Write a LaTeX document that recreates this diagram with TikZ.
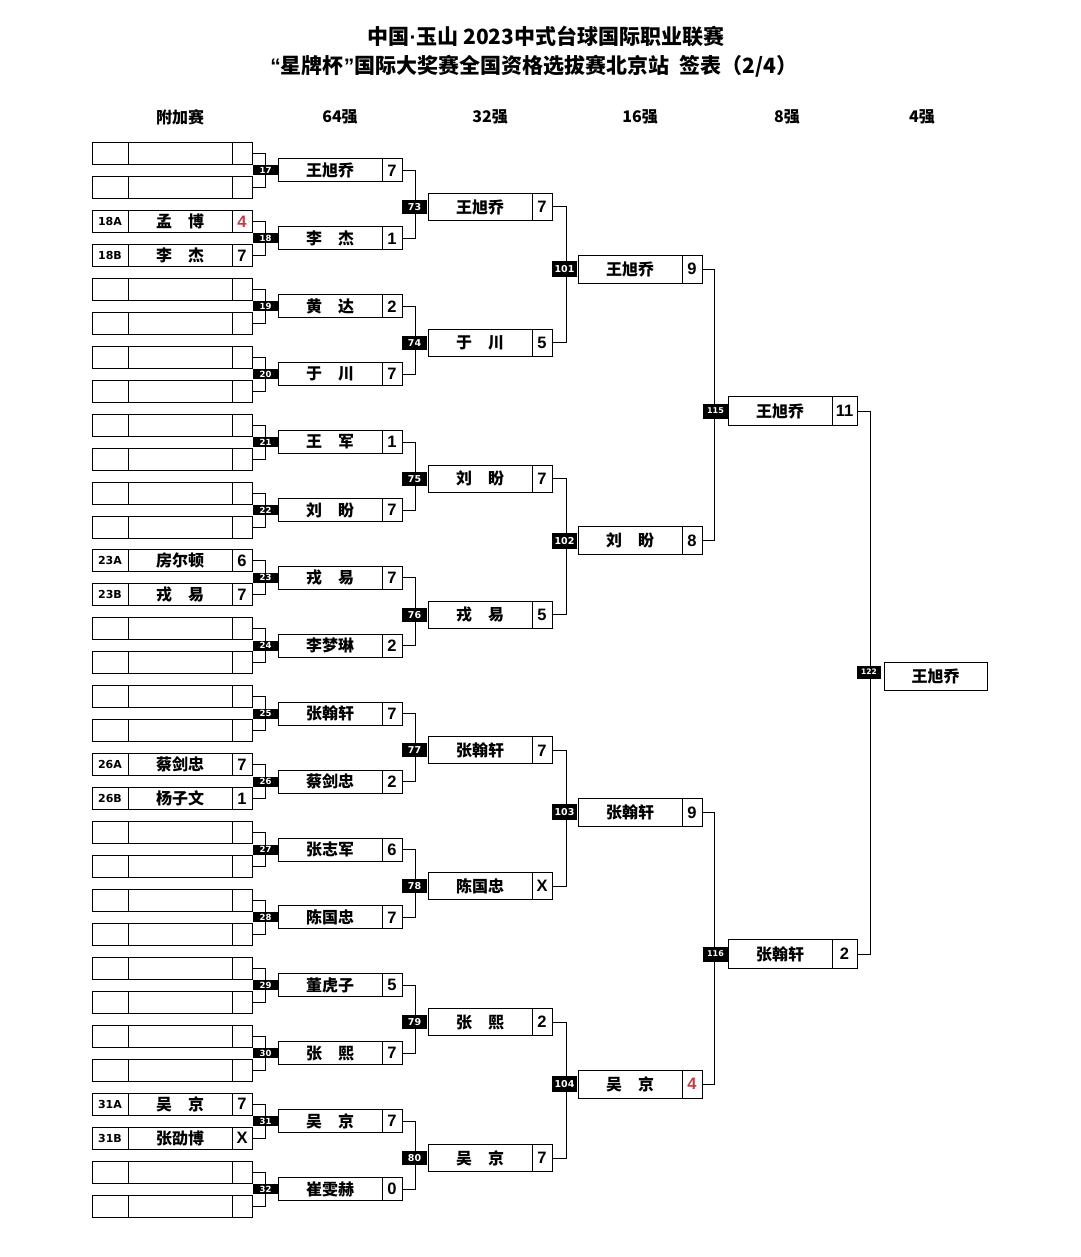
\documentclass[tikz,border=0pt]{standalone}
\usepackage{fontspec}
\setmainfont{Noto Sans CJK SC}
\newfontfamily\numf{Liberation Sans}
\newfontfamily\labf{DejaVu Sans}
\definecolor{sred}{RGB}{196,60,70}
\newcommand\gp{\hspace{1em}}
\tikzset{
  box/.style={draw, line width=1pt, inner sep=0pt, outer sep=0pt},
  pnum/.style={box, minimum width=36pt, minimum height=22pt, font=\labf\bfseries\fontsize{11}{12}\selectfont},
  pname/.style={box, minimum width=104pt, minimum height=22pt, font=\bfseries\fontsize{16}{18}\selectfont},
  pscore/.style={box, minimum width=20pt, minimum height=22pt, font=\numf\bfseries\fontsize{16.5}{18}\selectfont},
  nm/.style={box, minimum width=104pt, font=\bfseries\fontsize{16}{18}\selectfont},
  sc/.style={box, minimum width=20pt, font=\numf\bfseries\fontsize{16.5}{18}\selectfont},
  mlab/.style={fill=black, text=white, inner sep=0pt, minimum width=25pt, font=\labf\bfseries\fontsize{8.5}{9}\selectfont},
  link/.style={line width=1pt},
  hdr/.style={font=\bfseries\fontsize{16}{18}\selectfont},
  ttl/.style={font=\bfseries\fontsize{21}{24}\selectfont}
}
\begin{document}
\begin{tikzpicture}[x=1pt,y=-1pt]
\useasboundingbox[fill=white] (0,0) rectangle (1080,1257);
% titles
\node[ttl] (t1) at (546,36) {中国{\numf·}玉山 2023中式台球国际职业联赛};
\node[ttl] (t2) at (534,66) {{\numf“}星牌杯{\numf”}国际大奖赛全国资格选拔赛北京站\hspace{0.5em}签表（2/4）};
% headers
\node[hdr] (h0) at (180,117) {附加赛};
\node[hdr] (h1) at (340,117) {64强};
\node[hdr] (h2) at (490,117) {32强};
\node[hdr] (h3) at (640,117) {16强};
\node[hdr] (h4) at (787,117) {8强};
\node[hdr] (h5) at (922,117) {4强};
% preliminary rows
\foreach \m/\ca/\na/\sa/\cb/\nb/\sb in {
  17/{}/{}/{}/{}/{}/{},
  18/18A/{孟\gp 博}/{\color{sred}4}/18B/{李\gp 杰}/7,
  19/{}/{}/{}/{}/{}/{},
  20/{}/{}/{}/{}/{}/{},
  21/{}/{}/{}/{}/{}/{},
  22/{}/{}/{}/{}/{}/{},
  23/23A/房尔顿/6/23B/{戎\gp 易}/7,
  24/{}/{}/{}/{}/{}/{},
  25/{}/{}/{}/{}/{}/{},
  26/26A/蔡剑忠/7/26B/杨子文/1,
  27/{}/{}/{}/{}/{}/{},
  28/{}/{}/{}/{}/{}/{},
  29/{}/{}/{}/{}/{}/{},
  30/{}/{}/{}/{}/{}/{},
  31/31A/{吴\gp 京}/7/31B/张劭博/X,
  32/{}/{}/{}/{}/{}/{}}{
  \pgfmathsetmacro\c{170.5+67.9*(\m-17)}
  \node[pnum] (pac\m) at (110,\c-17) {\ca};
  \node[pname] (pan\m) at (180,\c-17) {\na};
  \node[pscore] (pas\m) at (242,\c-17) {\sa};
  \node[pnum] (pbc\m) at (110,\c+17) {\cb};
  \node[pname] (pbn\m) at (180,\c+17) {\nb};
  \node[pscore] (pbs\m) at (242,\c+17) {\sb};
  \draw[link] (pas\m.east) -- ++(13,0) |- (pbs\m.east);
}
% 64 column
\foreach \m/\n/\s in {17/王旭乔/7, 18/{李\gp 杰}/1, 19/{黄\gp 达}/2, 20/{于\gp 川}/7,
  21/{王\gp 军}/1, 22/{刘\gp 盼}/7, 23/{戎\gp 易}/7, 24/李梦琳/2,
  25/张翰轩/7, 26/蔡剑忠/2, 27/张志军/6, 28/陈国忠/7,
  29/董虎子/5, 30/{张\gp 熙}/7, 31/{吴\gp 京}/7, 32/崔雯赫/0}{
  \pgfmathsetmacro\c{170.5+67.9*(\m-17)}
  \node[nm, minimum height=23pt] (an\m) at (330,\c) {\n};
  \node[sc, minimum height=23pt] (as\m) at (392,\c) {\s};
  \node[mlab, minimum height=10pt] (la\m) at (265.5,\c) {\m};
}
% 32 column
\foreach \m/\a/\b/\n/\s in {73/17/18/王旭乔/7, 74/19/20/{于\gp 川}/5, 75/21/22/{刘\gp 盼}/7, 76/23/24/{戎\gp 易}/5,
  77/25/26/张翰轩/7, 78/27/28/陈国忠/X, 79/29/30/{张\gp 熙}/2, 80/31/32/{吴\gp 京}/7}{
  \pgfmathsetmacro\c{207+135.86*(\m-73)}
  \draw[link] (as\a.east) -- ++(13,0) |- (as\b.east);
  \node[nm, minimum height=27pt] (bn\m) at (480,\c) {\n};
  \node[sc, minimum height=27pt] (bs\m) at (542,\c) {\s};
  \node[mlab, minimum height=14pt, font=\labf\bfseries\fontsize{9.5}{10}\selectfont] (lb\m) at (414.5,\c) {\m};
}
% 16 column
\foreach \m/\a/\b/\n/\s in {101/73/74/王旭乔/9, 102/75/76/{刘\gp 盼}/8, 103/77/78/张翰轩/9, 104/79/80/{吴\gp 京}/{\color{sred}4}}{
  \pgfmathsetmacro\c{269+271.7*(\m-101)}
  \draw[link] (bs\a.east) -- ++(14,0) |- (bs\b.east);
  \node[nm, minimum height=28pt] (cn\m) at (630,\c) {\n};
  \node[sc, minimum height=28pt] (cs\m) at (692,\c) {\s};
  \node[mlab, minimum height=16pt, font=\labf\bfseries\fontsize{9.5}{10}\selectfont] (lc\m) at (564.5,\c) {\m};
}
% 8 column
\foreach \m/\a/\b/\y/\n/\s in {115/101/102/411/王旭乔/11, 116/103/104/954/张翰轩/2}{
  \draw[link] (cs\a.east) -- ++(12,0) |- (cs\b.east);
  \node[nm, minimum height=29pt] (dn\m) at (780,\y) {\n};
  \node[sc, minimum width=25pt, minimum height=29pt] (ds\m) at (844.5,\y) {\s};
  \node[mlab, minimum height=15pt, font=\labf\bfseries\fontsize{8}{9}\selectfont] (ld\m) at (715.5,\y) {\m};
}
% final
\draw[link] (ds115.east) -- ++(13,0) |- (ds116.east);
\node[nm, minimum width=103pt, minimum height=28pt] (en122) at (935.5,676) {王旭乔};
\node[mlab, minimum width=24pt, minimum height=13pt, font=\labf\bfseries\fontsize{7.5}{8}\selectfont] (le122) at (869,672) {122};
\end{tikzpicture}
\end{document}
